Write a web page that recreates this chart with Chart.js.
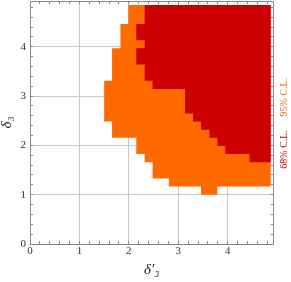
<!DOCTYPE html>
<html>
<head>
<meta charset="utf-8">
<script src="https://cdn.jsdelivr.net/npm/chart.js@4.4.0/dist/chart.umd.min.js"></script>
<style>
  html, body { margin: 0; padding: 0; background: #fff; }
  #wrap { width: 291px; height: 282px; }
</style>
</head>
<body>
<div id="wrap"><canvas id="cl-chart"></canvas></div>
<script>
// 95% C.L. region, as horizontal strips in delta_3 (lo..hi), filled from..to in delta_3'
const strip95Lo = [1.0, 1.165, 1.33, 1.66, 1.825, 2.155, 2.485, 3.31, 3.97, 4.465];
const strip95Hi = [1.165, 1.33, 1.66, 1.825, 2.155, 2.485, 3.31, 3.97, 4.465, 4.85];
const strip95From = [3.46, 2.81, 2.48, 2.32, 2.15, 1.66, 1.5, 1.66, 1.83, 1.99];
const strip95To = [3.79, 4.87, 4.87, 4.87, 4.87, 4.87, 4.87, 4.87, 4.87, 4.87];

// 68% C.L. region
const strip68Lo = [1.66, 1.825, 1.99, 2.155, 2.32, 2.485, 2.65, 3.145, 3.31, 3.64, 3.97, 4.135, 4.465];
const strip68Hi = [1.825, 1.99, 2.155, 2.32, 2.485, 2.65, 3.145, 3.31, 3.64, 3.97, 4.135, 4.465, 4.85];
const strip68From = [4.44, 3.95, 3.79, 3.63, 3.46, 3.3, 3.135, 2.48, 2.32, 2.15, 2.32, 2.15, 2.32];
const strip68To = [4.87, 4.87, 4.87, 4.87, 4.87, 4.87, 4.87, 4.87, 4.87, 4.87, 4.87, 4.87, 4.87];

const axisMin = 0;
const axisMax = 4.93;
const clText = ["68% C.L.", "95% C.L."];
const clAt = [1.92, 2.98];
const clColor = ["#cc0000", "#ff6a00"];

const serif = "'Liberation Serif', 'DejaVu Serif', serif";

// walk up the left edges, then back down the right edges
function outline(lo, hi, from, to) {
  const pts = [];
  for (let i = 0; i < lo.length; i++) {
    pts.push({ x: from[i], y: lo[i] }, { x: from[i], y: hi[i] });
  }
  for (let i = lo.length - 1; i >= 0; i--) {
    pts.push({ x: to[i], y: hi[i] }, { x: to[i], y: lo[i] });
  }
  return pts;
}

const clLabels = {
  id: "clLabels",
  afterDraw(chart) {
    const { ctx, chartArea, scales } = chart;
    ctx.save();
    ctx.font = "10px " + serif;
    ctx.textAlign = "center";
    ctx.textBaseline = "middle";
    clText.forEach((t, i) => {
      ctx.save();
      ctx.translate(chartArea.right + 10.5, scales.y.getPixelForValue(clAt[i]));
      ctx.rotate(-Math.PI / 2);
      ctx.fillStyle = clColor[i];
      ctx.fillText(t, 0, 0);
      ctx.restore();
    });
    ctx.restore();
  },
};

const isMajor = (v) => Math.abs(v - Math.round(v)) < 1e-6;

// fixed box size, no extra label padding around the plot
function fixBox(w, h) {
  return (s) => {
    if (w !== null) s.width = w;
    if (h !== null) s.height = h;
    s.paddingTop = 0;
    s.paddingBottom = 0;
    s.paddingLeft = 0;
    s.paddingRight = 0;
  };
}

function frameAxis(axis, position, extra) {
  return Object.assign(
    {
      type: "linear",
      axis: axis,
      position: position,
      min: axisMin,
      max: axisMax,
      ticks: {
        stepSize: 0.2,
        autoSkip: false,
        includeBounds: false,
        maxRotation: 0,
        display: false,
      },
      grid: {
        drawOnChartArea: false,
        tickLength: -3,
        tickColor: "#888",
      },
      border: { color: "#888" },
    },
    extra
  );
}

const tickFont = { family: serif, size: 11 };

new Chart(document.getElementById("cl-chart"), {
  type: "line",
  data: {
    datasets: [
      {
        label: "68% C.L.",
        data: outline(strip68Lo, strip68Hi, strip68From, strip68To),
        fill: "shape",
        backgroundColor: "#cc0000",
        borderColor: "rgba(0,0,0,0)",
        borderWidth: 0,
        pointRadius: 0,
      },
      {
        label: "95% C.L.",
        data: outline(strip95Lo, strip95Hi, strip95From, strip95To),
        fill: "shape",
        backgroundColor: "#ff6a00",
        borderColor: "rgba(0,0,0,0)",
        borderWidth: 0,
        pointRadius: 0,
      },
    ],
  },
  options: {
    animation: false,
    responsive: true,
    maintainAspectRatio: false,
    layout: { padding: 0 },
    elements: { line: { tension: 0 } },
    plugins: { legend: { display: false }, tooltip: { enabled: false } },
    scales: {
      x: frameAxis("x", "bottom", {
        ticks: {
          stepSize: 0.2,
          autoSkip: false,
          includeBounds: false,
          maxRotation: 0,
          padding: 4,
          color: "#333",
          font: tickFont,
          callback: (v) => (isMajor(v) ? Math.round(v) : ""),
        },
        grid: {
          color: (c) => (c.tick && isMajor(c.tick.value) ? "#c8c8c8" : "rgba(0,0,0,0)"),
          tickLength: -3,
          tickColor: "#888",
        },
        title: {
          display: true,
          text: "δ′₃",
          color: "#222",
          font: { family: serif, size: 15, style: "italic", lineHeight: 1 },
          padding: { top: 0, bottom: 4.5 },
        },
        afterFit: fixBox(null, 38),
      }),
      y: frameAxis("y", "left", {
        ticks: {
          stepSize: 0.2,
          autoSkip: false,
          includeBounds: false,
          padding: 7,
          color: "#333",
          font: tickFont,
          callback: (v) => (isMajor(v) ? Math.round(v) : ""),
        },
        grid: {
          color: (c) => (c.tick && isMajor(c.tick.value) ? "#c8c8c8" : "rgba(0,0,0,0)"),
          tickLength: -3,
          tickColor: "#888",
        },
        title: {
          display: true,
          text: "δ₃",
          color: "#222",
          font: { family: serif, size: 15, style: "italic", lineHeight: 1 },
          padding: { top: 0, bottom: 0 },
        },
        afterFit: fixBox(30, null),
      }),
      x2: frameAxis("x", "top", { afterFit: fixBox(null, 1) }),
      y2: frameAxis("y", "right", { afterFit: fixBox(17.3, null) }),
    },
  },
  plugins: [clLabels],
});
</script>
</body>
</html>
